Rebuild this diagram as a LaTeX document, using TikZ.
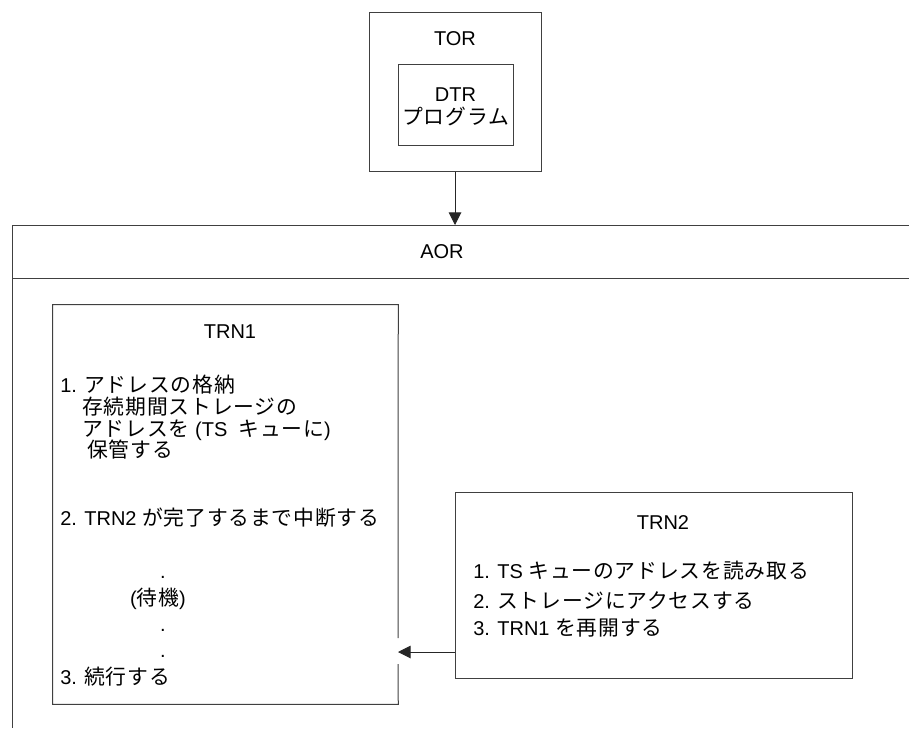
\documentclass[tikz,border=0pt]{standalone}
\usepackage{fontspec}
\setmainfont{Liberation Sans}
\newfontfamily\cjkfont[Scale=1.04,LetterSpace=4]{Noto Sans CJK JP}
\newcommand\JP[1]{{\cjkfont #1}}
\usetikzlibrary{fit,arrows.meta}
\tikzset{
  ln/.style={draw=black!75, line width=0.75pt},
  boxnode/.style={ln, inner sep=0pt, fit={#1}},
  txt/.style={inner sep=0pt, anchor=base west, font=\fontsize{15}{18}\selectfont},
  ctxt/.style={inner sep=0pt, anchor=base, font=\fontsize{15}{18}\selectfont},
  arr/.style={draw=black!85, line width=0.75pt, -{Triangle[length=9.5pt,width=9.5pt]}}
}
\begin{document}
\begin{tikzpicture}[x=0.75pt,y=-0.75pt]
\useasboundingbox (0,0) rectangle (909,728);
% TOR
\node[boxnode={(369,12)(541,171)}] (TOR) {};
\node[boxnode={(398,64)(513,145)}] (DTR) {};
\node[ctxt] (tortxt) at (455,45) {TOR};
\node[ctxt] (dtrtxt) at (455.5,101) {DTR};
\node[ctxt] (progtxt) at (455.5,124) {\JP{プログラム}};
% AOR
\coordinate (aortl) at (12,225);
\coordinate (aortr) at (909,225);
\coordinate (aorhl) at (12,278);
\coordinate (aorhr) at (909,278);
\coordinate (aorbl) at (12,728);
\coordinate (aortop) at (455,225);
\draw[ln] (aortr) -- (aortl) -- (aorbl);
\draw[ln] (aorhl) -- (aorhr);
\node[ctxt] (aortxt) at (442,258) {AOR};
\draw[arr] (TOR.south) -- (aortop);
% TRN1
\node[inner sep=0pt, fit={(53,305)(398,704)}] (TRN1) {};
\coordinate (gaptop) at (398,638);
\coordinate (gapbot) at (398,664);
\draw[ln] (gaptop) -- (TRN1.north east) -- (TRN1.north west) -- (TRN1.south west) -- (TRN1.south east) -- (gapbot);
\node[ctxt] (t1title) at (230,338) {TRN1};
\node[txt] (t1a) at (60,392) {1. \JP{アドレスの格納}};
\node[txt] (t1b) at (82,414) {\JP{存続期間ストレージの}};
\node[txt] (t1c) at (82,436) {\JP{アドレスを} (TS\ \ \JP{キューに})};
\node[txt] (t1d) at (87,457) {\JP{保管する}};
\node[txt] (t1e) at (60,525) {2. TRN2 \JP{が完了するまで中断する}};
\node[ctxt] (dot1) at (163,578) {.};
\node[ctxt] (wait) at (158,605) {(\JP{待機})};
\node[ctxt] (dot2) at (163,631.5) {.};
\node[ctxt] (dot3) at (163,657.5) {.};
\node[txt] (t1f) at (60,684) {3. \JP{続行する}};
% TRN2
\node[boxnode={(455,492)(852,678)}] (TRN2) {};
\node[ctxt] (t2title) at (663,529) {TRN2};
\node[txt] (t2a) at (473,578) {1. TS \JP{キューのアドレスを読み取る}};
\node[txt] (t2b) at (473,608) {2. \JP{ストレージにアクセスする}};
\node[txt] (t2c) at (473,635) {3. TRN1 \JP{を再開する}};
\coordinate (tip) at (398,652);
\draw[arr] (TRN2.west |- tip) -- (tip);
\end{tikzpicture}
\end{document}
